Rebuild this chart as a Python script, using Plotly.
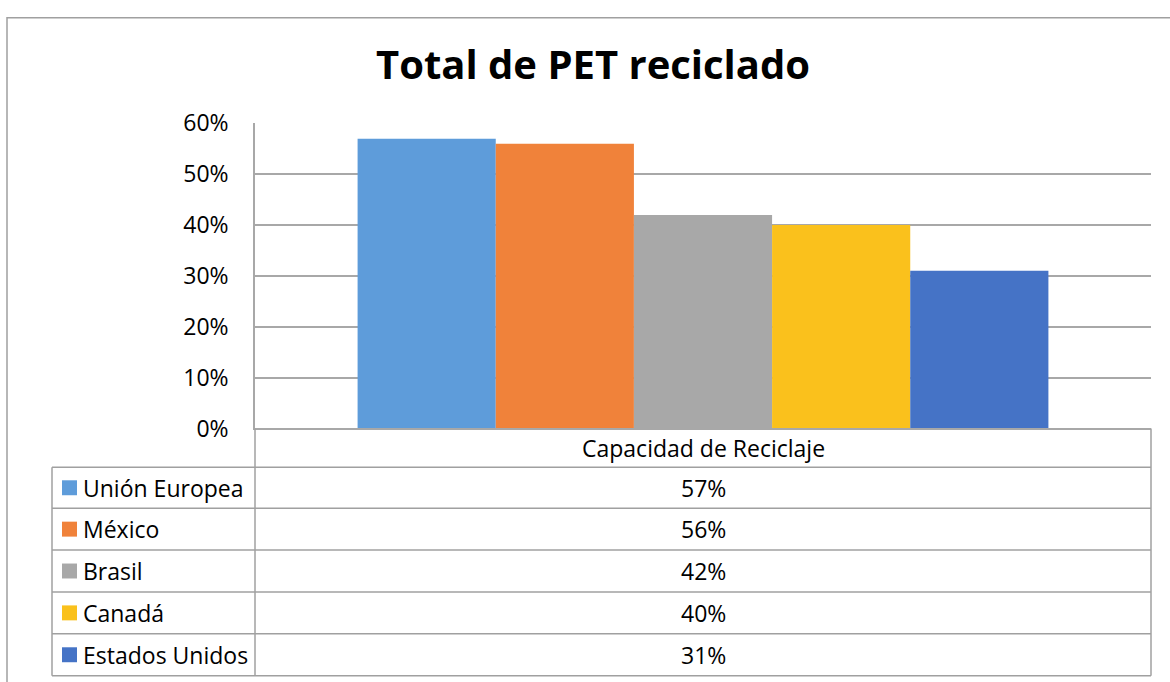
import plotly.graph_objects as go

# ---- data ----
countries = ["Unión Europea", "México", "Brasil", "Canadá", "Estados Unidos"]
values = [0.57, 0.56, 0.42, 0.40, 0.31]
category = "Capacidad de Reciclaje"
title_text = "Total de PET reciclado"
y_ticks = [0, 0.1, 0.2, 0.3, 0.4, 0.5, 0.6]

# ---- style ----
colors = ["#5E9CDA", "#F0823A", "#A8A8A8", "#FAC11C", "#4573C6"]
W, H = 1170, 697
FONT = "Open Sans"
GRID = "#A8A8A8"

# the photographed picture maps page y -> 15.3 + 0.957 * y ; place items by target picture y
Y_OFF, Y_SCALE = 15.3, 0.957


def px(x):
    return x / W


def py(img_y):
    page_y = (img_y - Y_OFF) / Y_SCALE
    return 1 - page_y / H


plot_l, plot_r, plot_t, plot_b = 255, 1151, 122, 428
table_l = 52
row_edges = [467, 508, 550, 592, 634, 676]

fig = go.Figure()
for name, v, c in zip(countries, values, colors):
    fig.add_trace(go.Bar(
        x=[category], y=[v], name=name,
        marker=dict(color=c, line=dict(width=0)),
        showlegend=False,
    ))

shapes = []
annotations = []

# outer chart border
shapes.append(dict(type="rect", xref="paper", yref="paper",
                   x0=px(7), x1=px(W + 10), y0=1 - 0.8 / H, y1=-0.05,
                   line=dict(color="#A0A0A0", width=1.5)))

line_style = dict(color="#A0A0A0", width=1.5)
for y in row_edges:
    shapes.append(dict(type="line", xref="paper", yref="paper",
                       x0=px(table_l), x1=px(plot_r), y0=py(y), y1=py(y),
                       line=line_style))
shapes.append(dict(type="line", xref="paper", yref="paper",
                   x0=px(table_l), x1=px(table_l), y0=py(row_edges[0]), y1=py(row_edges[-1]),
                   line=line_style))
shapes.append(dict(type="line", xref="paper", yref="paper",
                   x0=px(plot_l), x1=px(plot_l), y0=py(plot_b), y1=py(row_edges[-1]),
                   line=line_style))
shapes.append(dict(type="line", xref="paper", yref="paper",
                   x0=px(plot_r), x1=px(plot_r), y0=py(plot_b), y1=py(row_edges[-1]),
                   line=line_style))

mid_x = (plot_l + plot_r) / 2
TXT = dict(family=FONT, size=23, color="#000000")
annotations.append(dict(text=category, xref="paper", yref="paper",
                        x=px(mid_x), y=py((plot_b + row_edges[0]) / 2),
                        xanchor="center", yanchor="middle", showarrow=False, font=TXT))

for i, (name, v, c) in enumerate(zip(countries, values, colors)):
    yc = (row_edges[i] + row_edges[i + 1]) / 2
    shapes.append(dict(type="rect", xref="paper", yref="paper",
                       x0=px(62), x1=px(77), y0=py(yc - 7.5), y1=py(yc + 7.5),
                       fillcolor=c, line=dict(width=0)))
    annotations.append(dict(text=name, xref="paper", yref="paper",
                            x=px(81), y=py(yc), xanchor="left", yanchor="middle",
                            showarrow=False, font=TXT))
    annotations.append(dict(text=f"{v:.0%}", xref="paper", yref="paper",
                            x=px(mid_x), y=py(yc), xanchor="center", yanchor="middle",
                            showarrow=False, font=TXT))

annotations.append(dict(text=f"<b>{title_text}</b>", xref="paper", yref="paper",
                        x=px(593), y=py(62), xanchor="center", yanchor="middle",
                        showarrow=False,
                        font=dict(family=FONT, size=40, color="#000000")))

fig.update_layout(
    width=W, height=H, autosize=False,
    margin=dict(l=0, r=0, t=0, b=0),
    paper_bgcolor="white", plot_bgcolor="white",
    barmode="group", bargap=0.229, bargroupgap=0,
    shapes=shapes, annotations=annotations,
    xaxis=dict(domain=[px(plot_l), px(plot_r)], showticklabels=False,
               showgrid=False, zeroline=False, showline=True,
               linecolor=GRID, linewidth=1.5, ticks=""),
    yaxis=dict(domain=[py(plot_b), py(plot_t)], range=[0, 0.6],
               tickvals=y_ticks, tickformat=".0%",
               showgrid=True, gridcolor=GRID, gridwidth=1.5,
               zeroline=False, showline=True, linecolor=GRID, linewidth=1.5,
               ticks="", ticklabelstandoff=20, tickfont=TXT),
    font=dict(family=FONT, color="#000000"),
)

# pin the figure to the top-left corner of the page (no body margin / offset)
pin_js = (
    "document.documentElement.style.margin='0';"
    "document.body.style.margin='0';"
    "document.body.style.overflow='hidden';"
    "var d=document.getElementById('{plot_id}');"
    "d.style.position='fixed';d.style.top='0px';d.style.left='0px';"
)

fig.write_html("out.html", post_script=pin_js, config={"displayModeBar": False})
